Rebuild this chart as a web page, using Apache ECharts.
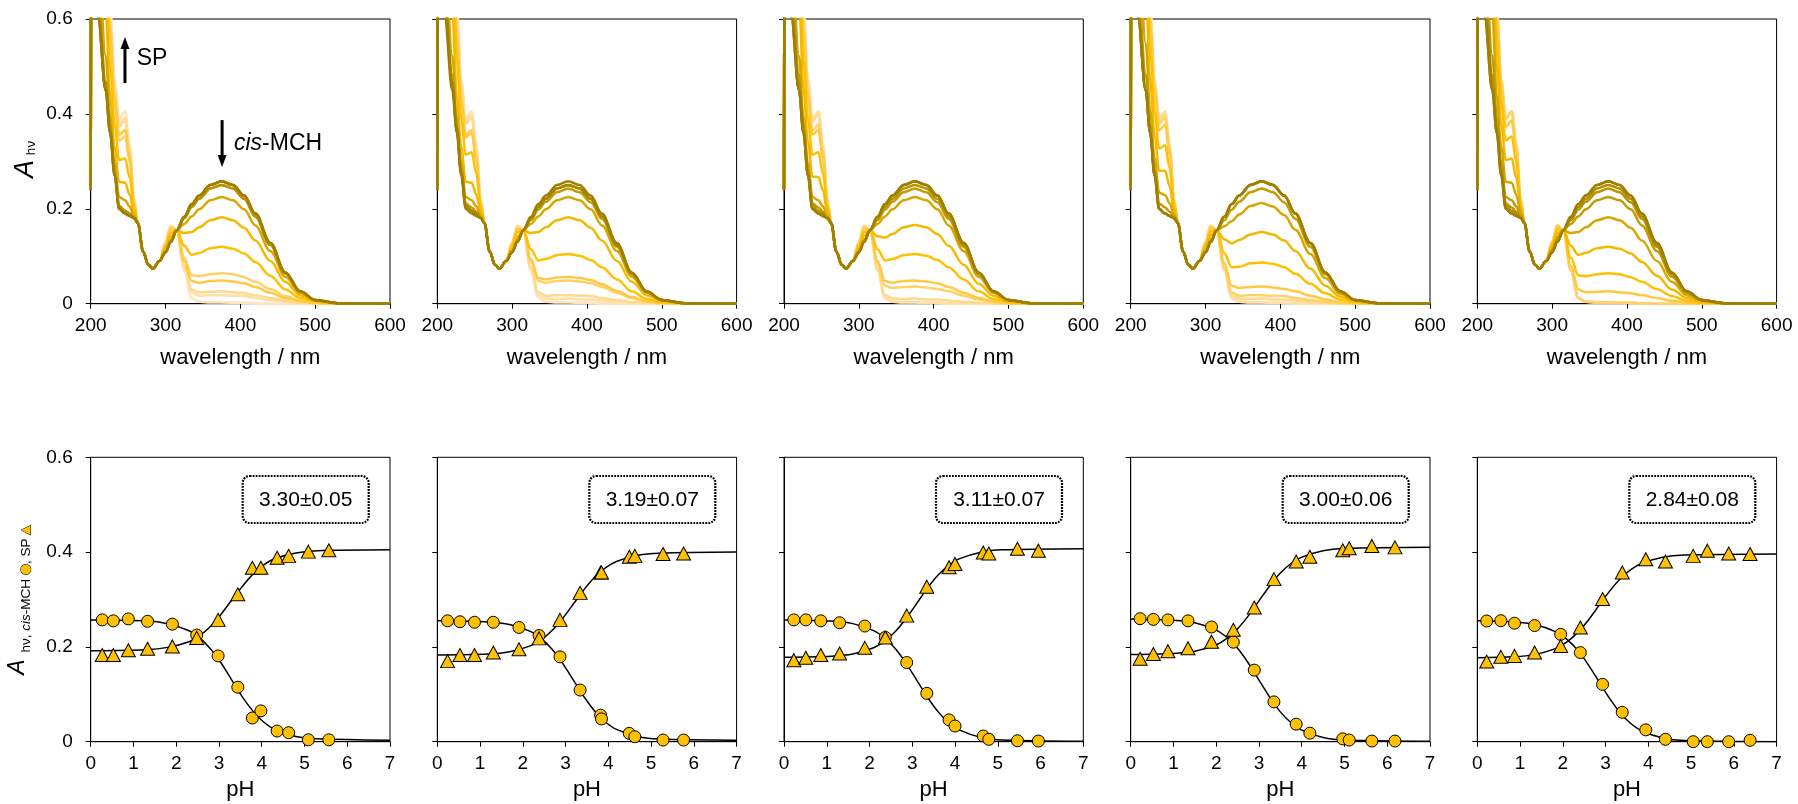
<!DOCTYPE html>
<html>
<head>
<meta charset="utf-8">
<script src="https://cdn.jsdelivr.net/npm/echarts@6.0.0/dist/echarts.min.js"></script>
<style>
html,body{margin:0;padding:0;background:#ffffff;}
#chart{width:1798px;height:804px;}
</style>
</head>
<body>
<div id="chart"></div>
<script>
// ---------- DATA ----------
// wavelength grid of the spectra (nm)
const wavelengths = [200,202,210,220,226,232,238,246,252,258,263,270,277,283,292,300,307,315,325,335,345,360,375,390,405,420,440,460,480,500,530,600];

// spectra (absorbance at each wavelength), named by their cis-MCH fraction level
const specL100 = [0.24,1.6,0.6,0.45,0.36,0.27,0.2,0.19,0.185,0.18,0.17,0.11,0.082,0.074,0.09,0.108,0.13,0.155,0.183,0.21,0.228,0.25,0.258,0.25,0.228,0.19,0.128,0.066,0.026,0.008,0.001,0];
const specL097 = [0.24,1.6,0.63,0.467,0.368,0.276,0.206,0.196,0.19,0.181,0.17,0.11,0.082,0.074,0.09,0.109,0.131,0.155,0.18,0.204,0.221,0.243,0.25,0.243,0.221,0.184,0.124,0.064,0.025,0.008,0.001,0];
const specL094 = [0.24,1.6,0.66,0.483,0.376,0.282,0.211,0.203,0.194,0.182,0.17,0.11,0.082,0.074,0.09,0.109,0.132,0.155,0.176,0.198,0.215,0.235,0.243,0.235,0.214,0.179,0.12,0.062,0.024,0.008,0.001,0];
const specL087 = [0.24,1.6,0.73,0.522,0.394,0.296,0.225,0.218,0.205,0.185,0.17,0.11,0.082,0.074,0.09,0.111,0.135,0.155,0.168,0.184,0.199,0.218,0.225,0.218,0.199,0.165,0.111,0.057,0.023,0.007,0.001,0];
const specL082 = [0.24,1.6,0.78,0.549,0.407,0.306,0.234,0.229,0.212,0.187,0.17,0.11,0.082,0.074,0.09,0.112,0.136,0.155,0.163,0.174,0.188,0.206,0.212,0.205,0.187,0.156,0.105,0.054,0.021,0.007,0.001,0];
const specL070 = [0.24,1.6,0.9,0.615,0.438,0.33,0.257,0.255,0.23,0.192,0.17,0.11,0.082,0.074,0.09,0.115,0.141,0.155,0.149,0.151,0.161,0.176,0.182,0.176,0.16,0.133,0.09,0.046,0.018,0.006,0.001,0];
const specL064 = [0.24,1.6,0.96,0.648,0.454,0.342,0.268,0.267,0.239,0.194,0.17,0.11,0.082,0.074,0.09,0.116,0.143,0.155,0.142,0.139,0.147,0.161,0.166,0.161,0.147,0.122,0.082,0.042,0.017,0.005,0.001,0];
const specL058 = [0.24,1.6,1.02,0.681,0.469,0.354,0.28,0.28,0.248,0.197,0.17,0.11,0.082,0.074,0.09,0.117,0.145,0.155,0.136,0.127,0.134,0.146,0.151,0.146,0.133,0.111,0.074,0.038,0.015,0.005,0.001,0];
const specL046 = [0.24,1.6,1.14,0.747,0.5,0.378,0.303,0.306,0.266,0.202,0.17,0.11,0.082,0.074,0.09,0.12,0.149,0.155,0.122,0.103,0.107,0.117,0.12,0.116,0.106,0.088,0.059,0.03,0.012,0.004,0.001,0];
const specL040 = [0.24,1.6,1.2,0.78,0.516,0.39,0.314,0.319,0.275,0.204,0.17,0.11,0.082,0.074,0.09,0.121,0.151,0.155,0.115,0.091,0.094,0.102,0.105,0.101,0.092,0.077,0.051,0.026,0.01,0.003,0.001,0];
const specL033 = [0.24,1.6,1.27,0.819,0.534,0.404,0.327,0.334,0.286,0.207,0.17,0.11,0.082,0.074,0.09,0.123,0.153,0.155,0.107,0.077,0.078,0.085,0.087,0.084,0.077,0.063,0.042,0.022,0.009,0.003,0.001,0];
const specL024 = [0.24,1.6,1.36,0.868,0.558,0.422,0.344,0.353,0.299,0.21,0.17,0.11,0.082,0.074,0.09,0.125,0.157,0.155,0.097,0.06,0.058,0.062,0.064,0.062,0.056,0.046,0.031,0.016,0.006,0.002,0.001,0];
const specL021 = [0.24,1.6,1.39,0.885,0.565,0.428,0.35,0.36,0.304,0.212,0.17,0.11,0.082,0.074,0.09,0.125,0.158,0.155,0.094,0.054,0.051,0.055,0.057,0.054,0.05,0.041,0.027,0.014,0.005,0.002,0.001,0];
const specL018 = [0.24,1.6,1.42,0.901,0.573,0.434,0.356,0.366,0.308,0.213,0.17,0.11,0.082,0.074,0.09,0.126,0.159,0.155,0.09,0.048,0.044,0.048,0.049,0.047,0.043,0.035,0.023,0.012,0.005,0.001,0.001,0];
const specL013 = [0.24,1.6,1.47,0.929,0.586,0.444,0.365,0.377,0.316,0.215,0.17,0.11,0.082,0.074,0.09,0.127,0.16,0.155,0.085,0.038,0.033,0.035,0.036,0.034,0.031,0.026,0.017,0.009,0.003,0.001,0.001,0];
const specL009 = [0.24,1.6,1.51,0.951,0.597,0.452,0.373,0.386,0.322,0.216,0.17,0.11,0.082,0.074,0.09,0.128,0.162,0.155,0.08,0.03,0.024,0.025,0.026,0.024,0.022,0.018,0.012,0.006,0.002,0.001,0.001,0];
const specL006 = [0.24,1.6,1.54,0.967,0.604,0.458,0.379,0.392,0.326,0.218,0.17,0.11,0.082,0.074,0.09,0.129,0.163,0.155,0.077,0.024,0.017,0.018,0.018,0.017,0.016,0.012,0.008,0.004,0.002,0,0.001,0];
const specL003 = [0.24,1.6,1.57,0.984,0.612,0.464,0.384,0.399,0.331,0.219,0.17,0.11,0.082,0.074,0.09,0.129,0.164,0.155,0.073,0.018,0.011,0.01,0.011,0.009,0.009,0.007,0.004,0.002,0.001,0,0.001,0];
const specL000 = [0.24,1.6,1.6,1.0,0.62,0.47,0.39,0.405,0.335,0.22,0.17,0.11,0.082,0.074,0.09,0.13,0.165,0.155,0.07,0.012,0.004,0.003,0.003,0.002,0.002,0.001,0,0,0,0,0.001,0];

// spectra of each panel, ordered by increasing pH
const spectra_1 = [specL100,specL100,specL100,specL097,specL097,specL087,specL070,specL046,specL018,specL024,specL009,specL006,specL000,specL000];
const spectra_2 = [specL100,specL097,specL097,specL097,specL094,specL087,specL070,specL040,specL021,specL018,specL006,specL003,specL000,specL000];
const spectra_3 = [specL100,specL100,specL100,specL097,specL094,specL087,specL064,specL040,specL018,specL013,specL003,specL000,specL000,specL000];
const spectra_4 = [specL100,specL100,specL100,specL100,specL094,specL082,specL058,specL033,specL013,specL006,specL003,specL000,specL000,specL000];
const spectra_5 = [specL100,specL100,specL097,specL094,specL087,specL070,specL046,specL024,specL009,specL000,specL000,specL000,specL000,specL000];

// titration points: pH, A(cis-MCH) circles, A(SP) triangles
const pH_1 = [0.27,0.53,0.88,1.33,1.91,2.48,2.98,3.44,3.78,3.98,4.36,4.63,5.09,5.57];
const mch_1 = [0.257,0.255,0.259,0.254,0.248,0.225,0.181,0.115,0.050,0.065,0.0225,0.019,0.004,0.004];
const sp_1 = [0.183,0.183,0.193,0.196,0.201,0.219,0.257,0.311,0.367,0.367,0.388,0.392,0.401,0.404];

const pH_2 = [0.24,0.53,0.87,1.31,1.91,2.38,2.87,3.34,3.82,3.84,4.49,4.62,5.28,5.76];
const mch_2 = [0.255,0.253,0.252,0.252,0.241,0.224,0.179,0.109,0.056,0.048,0.0176,0.0105,0.0035,0.0035];
const sp_2 = [0.170,0.183,0.183,0.188,0.195,0.218,0.257,0.314,0.357,0.357,0.390,0.392,0.396,0.397];

const pH_3 = [0.23,0.51,0.86,1.30,1.89,2.37,2.87,3.34,3.86,4.00,4.66,4.79,5.46,5.95];
const mch_3 = [0.257,0.257,0.255,0.251,0.244,0.220,0.167,0.102,0.046,0.033,0.012,0.005,0.002,0.0014];
const sp_3 = [0.172,0.177,0.183,0.186,0.198,0.220,0.266,0.327,0.368,0.375,0.399,0.397,0.407,0.403];

const pH_4 = [0.22,0.53,0.87,1.34,1.89,2.40,2.89,3.35,3.87,4.19,4.96,5.11,5.64,6.18];
const mch_4 = [0.2595,0.258,0.257,0.255,0.242,0.210,0.151,0.084,0.037,0.018,0.006,0.0035,0.0014,0.0014];
const sp_4 = [0.175,0.185,0.191,0.197,0.211,0.236,0.283,0.343,0.380,0.390,0.404,0.408,0.413,0.410];

const pH_5 = [0.22,0.55,0.87,1.34,1.95,2.41,2.93,3.39,3.94,4.40,5.05,5.38,5.88,6.38];
const mch_5 = [0.2546,0.2553,0.250,0.245,0.2265,0.188,0.121,0.062,0.025,0.005,0.0,0.0,0.0,0.003];
const sp_5 = [0.169,0.179,0.181,0.188,0.202,0.241,0.301,0.357,0.385,0.380,0.392,0.403,0.397,0.396];

// fitted curves
const fitPH_1 = [0,1.3,1.8,2.3,2.55,2.8,3.05,3.3,3.55,3.8,4.05,4.3,4.8,5.3,7];
const fitMCH_1 = [0.257,0.255,0.249,0.234,0.219,0.196,0.166,0.130,0.094,0.064,0.041,0.026,0.011,0.006,0.003];
const fitSP_1 = [0.192,0.194,0.199,0.211,0.224,0.243,0.269,0.299,0.328,0.354,0.373,0.386,0.398,0.403,0.405];

const fitPH_2 = [0,1.19,1.69,2.19,2.44,2.69,2.94,3.19,3.44,3.69,3.94,4.19,4.69,5.19,7];
const fitMCH_2 = [0.255,0.2525,0.2473,0.2321,0.217,0.1945,0.1643,0.129,0.0937,0.0635,0.0411,0.0259,0.0108,0.0055,0.003];
const fitSP_2 = [0.183,0.185,0.1897,0.2027,0.2158,0.2351,0.2611,0.2915,0.3219,0.3479,0.3672,0.3803,0.3933,0.3978,0.400];

const fitPH_3 = [0,1.11,1.61,2.11,2.36,2.61,2.86,3.11,3.36,3.61,3.86,4.11,4.61,5.11,7];
const fitMCH_3 = [0.257,0.2545,0.2491,0.2337,0.2183,0.1956,0.1648,0.129,0.0932,0.0624,0.0397,0.0243,0.0089,0.0036,0.001];
const fitSP_3 = [0.178,0.1803,0.185,0.1988,0.2126,0.233,0.2604,0.2925,0.3246,0.352,0.3724,0.3862,0.3999,0.4047,0.407];

const fitPH_4 = [0,1,1.5,2,2.25,2.5,2.75,3,3.25,3.5,3.75,4,4.5,5,7];
const fitMCH_4 = [0.259,0.2564,0.2511,0.2355,0.22,0.1971,0.1661,0.13,0.0939,0.0629,0.04,0.0245,0.009,0.0036,0.001];
const fitSP_4 = [0.184,0.1862,0.1909,0.2045,0.2181,0.2382,0.2654,0.297,0.3286,0.3558,0.3759,0.3894,0.403,0.4077,0.410];

const fitPH_5 = [0,0.84,1.34,1.84,2.09,2.34,2.59,2.84,3.09,3.34,3.59,3.84,4.34,4.84,7];
const fitMCH_5 = [0.255,0.2525,0.2472,0.2318,0.2165,0.1938,0.1632,0.1275,0.0918,0.0612,0.0385,0.0232,0.0079,0.0025,0];
const fitSP_5 = [0.177,0.1792,0.1837,0.1969,0.2101,0.2296,0.2558,0.2865,0.3172,0.3434,0.3629,0.3761,0.3892,0.3938,0.396];

const pKaLabels = ['3.30±0.05','3.19±0.07','3.11±0.07','3.00±0.06','2.84±0.08'];

// ---------- BUILD ----------
const panelSpectra = [spectra_1,spectra_2,spectra_3,spectra_4,spectra_5];
const panelPH = [pH_1,pH_2,pH_3,pH_4,pH_5];
const panelMCH = [mch_1,mch_2,mch_3,mch_4,mch_5];
const panelSP = [sp_1,sp_2,sp_3,sp_4,sp_5];
const panelFitPH = [fitPH_1,fitPH_2,fitPH_3,fitPH_4,fitPH_5];
const panelFitMCH = [fitMCH_1,fitMCH_2,fitMCH_3,fitMCH_4,fitMCH_5];
const panelFitSP = [fitSP_1,fitSP_2,fitSP_3,fitSP_4,fitSP_5];

const FONT = "Liberation Sans, Arial, Helvetica, sans-serif";
const lineColors = ['#A07F00','#A88600','#B08C00','#B99300','#C49B00','#D6A700','#F2B900','#FFC000','#FFC940','#FFD166','#FFD98C','#FFDFA6','#FFE4BC','#FDE9D2'];
const gridLefts = [90.7, 437.3, 784, 1130.7, 1477.3];
const gridW = 299.3;
const topRow = {top: 19, height: 284.7};
const botRow = {top: 457.3, height: 284.4};

const grids = [], xAxes = [], yAxes = [], series = [];
const yFmt = v => (v === 0 ? '0' : v.toFixed(1));

function axisCommon() {
  return {
    axisLine: {show: true, onZero: false, lineStyle: {color: '#000', width: 1}},
    axisTick: {show: true, inside: false, length: 5, lineStyle: {color: '#000', width: 1}},
    splitLine: {show: false},
    axisLabel: {color: '#000', fontSize: 19, fontFamily: FONT, showMinLabel: true, showMaxLabel: true, hideOverlap: false},
    nameTextStyle: {color: '#000', fontSize: 22, fontFamily: FONT}
  };
}

for (let row = 0; row < 2; row++) {
  for (let p = 0; p < 5; p++) {
    const gi = row * 5 + p;
    const r = row === 0 ? topRow : botRow;
    grids.push({left: gridLefts[p], top: r.top, width: gridW, height: r.height, show: true,
      borderColor: '#000', borderWidth: 1, backgroundColor: 'rgba(0,0,0,0)', containLabel: false, outerBoundsMode: 'none'});
    const xa = Object.assign(axisCommon(), {
      type: 'value', gridIndex: gi,
      min: row === 0 ? 200 : 0, max: row === 0 ? 600 : 7, interval: row === 0 ? 100 : 1,
      name: row === 0 ? 'wavelength / nm' : 'pH', nameLocation: 'middle', nameGap: row === 0 ? 43 : 37
    });
    xa.axisLabel.margin = 13;
    xAxes.push(xa);
    const ya = Object.assign(axisCommon(), {type: 'value', gridIndex: gi, min: 0, max: 0.6, interval: 0.2});
    ya.axisLabel.margin = 18;
    ya.axisLabel.show = (p === 0);
    ya.axisLabel.formatter = yFmt;
    yAxes.push(ya);
  }
}

// spectra (top row): light (high pH) drawn first, dark (low pH) on top
for (let p = 0; p < 5; p++) {
  const list = panelSpectra[p];
  for (let i = list.length - 1; i >= 0; i--) {
    const spec = list[i];
    series.push({
      type: 'line', xAxisIndex: p, yAxisIndex: p,
      data: wavelengths.map((w, k) => [w, spec[k]]),
      showSymbol: false, symbol: 'none', smooth: 0.35, smoothMonotone: 'x', clip: true,
      lineStyle: {color: lineColors[i], width: 2.5}, itemStyle: {color: lineColors[i]},
      silent: true, animation: false, z: 2
    });
  }
}

// titration (bottom row)
for (let p = 0; p < 5; p++) {
  const ai = 5 + p;
  series.push({type: 'line', xAxisIndex: ai, yAxisIndex: ai,
    data: panelFitMCH[p].map((v, k) => [panelFitPH[p][k], v]),
    showSymbol: false, symbol: 'none', smooth: 0.3, lineStyle: {color: '#000', width: 1.5}, silent: true, z: 2});
  series.push({type: 'line', xAxisIndex: ai, yAxisIndex: ai,
    data: panelFitSP[p].map((v, k) => [panelFitPH[p][k], v]),
    showSymbol: false, symbol: 'none', smooth: 0.3, lineStyle: {color: '#000', width: 1.5}, silent: true, z: 2});
  series.push({type: 'scatter', xAxisIndex: ai, yAxisIndex: ai,
    data: panelMCH[p].map((v, k) => [panelPH[p][k], v]),
    symbol: 'circle', symbolSize: 12, clip: false,
    itemStyle: {color: '#FFC000', borderColor: '#000', borderWidth: 1, opacity: 1}, silent: true, z: 3});
  series.push({type: 'scatter', xAxisIndex: ai, yAxisIndex: ai,
    data: panelSP[p].map((v, k) => [panelPH[p][k], v]),
    symbol: 'triangle', symbolSize: [14, 13], clip: false,
    itemStyle: {color: '#FFC000', borderColor: '#000', borderWidth: 1, opacity: 1}, silent: true, z: 4});
}

const chart = echarts.init(document.getElementById('chart'), null, {renderer: 'canvas'});
chart.setOption({
  animation: false,
  backgroundColor: '#ffffff',
  textStyle: {fontFamily: FONT},
  grid: grids, xAxis: xAxes, yAxis: yAxes, series: series
});

// ---------- ANNOTATIONS ----------
const g = [];
function textEl(x, y, text, size, opts) {
  opts = opts || {};
  const style = {
    text: text, fill: '#000', fontSize: size, fontFamily: FONT,
    fontStyle: opts.italic ? 'italic' : 'normal',
    align: opts.align || 'center', verticalAlign: 'middle',
    textAlign: opts.align || 'center', textVerticalAlign: 'middle'
  };
  if (opts.rich) style.rich = opts.rich;
  return {type: 'text', x: x, y: y, rotation: opts.rot || 0, originX: 0, originY: 0, z: 100, silent: true, style: style};
}

// y-axis titles (rotated 90 deg, reading upwards) - rich text tokens
const richTitle = {
  a27: {fontSize: 27, fontFamily: FONT, fontStyle: 'italic', fill: '#000'},
  a23: {fontSize: 23, fontFamily: FONT, fontStyle: 'italic', fill: '#000'},
  s: {fontSize: 13.5, fontFamily: FONT, fill: '#000'},
  i: {fontSize: 13.5, fontFamily: FONT, fontStyle: 'italic', fill: '#000'},
  c: {fontSize: 13, fontFamily: 'DejaVu Sans, sans-serif', fill: '#FFC000', stroke: '#000', lineWidth: 1},
  t: {fontSize: 12, fontFamily: 'DejaVu Sans, sans-serif', fill: '#FFC000', stroke: '#000', lineWidth: 1}
};
g.push(textEl(25, 169, '{a27|A}', 27, {rich: richTitle, rot: Math.PI / 2}));
g.push(textEl(31, 148, '{s|hν}', 13.5, {rich: richTitle, rot: Math.PI / 2}));
g.push(textEl(18, 667, '{a23|A}', 23, {rich: richTitle, rot: Math.PI / 2}));
g.push(textEl(26, 589, '{s|hν, }{i|cis}{s|-MCH }{c|●}{s|, SP }{t|▲}', 13.5, {rich: richTitle, rot: Math.PI / 2}));

// arrows + labels in the first spectrum panel
function arrow(p1, p2) {
  const dir = p2[1] < p1[1] ? -1 : 1;
  const headLen = 12, headW = 4.5;
  g.push({type: 'line', z: 100, silent: true,
    shape: {x1: p1[0], y1: p1[1], x2: p2[0], y2: p2[1] - dir * headLen},
    style: {stroke: '#000', lineWidth: 3}});
  g.push({type: 'polygon', z: 100, silent: true,
    shape: {points: [[p2[0], p2[1]], [p2[0] - headW, p2[1] - dir * headLen], [p2[0] + headW, p2[1] - dir * headLen]]},
    style: {fill: '#000'}});
}
const px = (x, y) => chart.convertToPixel({xAxisIndex: 0, yAxisIndex: 0}, [x, y]);
arrow(px(245.8, 0.465), px(245.8, 0.562));
arrow(px(375.6, 0.387), px(375.6, 0.288));
const spPos = px(261.5, 0.517);
g.push(textEl(spPos[0], spPos[1], 'SP', 23, {align: 'left'}));
const mchPos = px(391.5, 0.338);
g.push(textEl(mchPos[0], mchPos[1], '{i|cis}{s|-MCH}', 23, {align: 'left', rich: {
  i: {fontSize: 23, fontFamily: FONT, fontStyle: 'italic', fill: '#000'},
  s: {fontSize: 23, fontFamily: FONT, fill: '#000'}}}));

// pKa boxes
for (let p = 0; p < 5; p++) {
  const bx = gridLefts[p] + 152, by = 476, bw = 126, bh = 47;
  g.push({type: 'rect', z: 100, silent: true,
    shape: {x: bx, y: by, width: bw, height: bh, r: 7},
    style: {fill: '#ffffff', stroke: '#000', lineWidth: 2.2, lineDash: [1.8, 1.2]}});
  g.push(textEl(bx + bw / 2, by + bh / 2 + 1, pKaLabels[p], 21));
}

chart.setOption({graphic: g});
</script>
</body>
</html>
